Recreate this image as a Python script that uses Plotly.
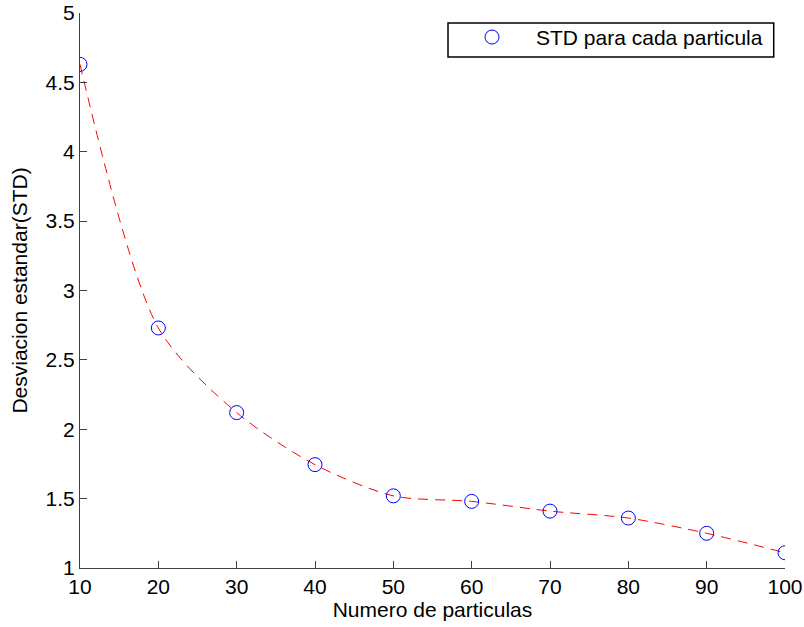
import plotly.graph_objects as go

particles = [10, 20, 30, 40, 50, 60, 70, 80, 90, 100]
std_values = [4.63, 2.73, 2.12, 1.745, 1.52, 1.48, 1.41, 1.36, 1.25, 1.11]
x_ticks = [10, 20, 30, 40, 50, 60, 70, 80, 90, 100]
y_ticks = [1, 1.5, 2, 2.5, 3, 3.5, 4, 4.5, 5]

font = "Liberation Sans, Arial, sans-serif"

fig = go.Figure()
fig.add_trace(go.Scatter(
    x=particles, y=std_values, mode="lines", line_shape="spline",
    line=dict(color="red", width=1, dash="10px,7px", smoothing=0.8), showlegend=False,
    hoverinfo="skip"))
fig.add_trace(go.Scatter(
    x=particles, y=std_values, mode="markers", name="STD para cada particula",
    marker=dict(symbol="circle-open", size=14, color="blue", line=dict(width=1, color="blue"))))

# legend frame
fig.add_shape(type="rect", xref="paper", yref="paper",
              x0=0.522, x1=0.984, y0=0.9207, y1=0.982,
              line=dict(color="black", width=1.5), fillcolor="white", layer="below")

fig.update_layout(
    width=804, height=627,
    margin=dict(l=80, r=19, t=13, b=59),
    paper_bgcolor="white", plot_bgcolor="white",
    font=dict(family=font, size=21, color="black"),
    legend=dict(x=0.522, y=0.993, xanchor="left", yanchor="top",
                borderwidth=0, bgcolor="rgba(0,0,0,0)",
                font=dict(size=21), itemwidth=78),
    xaxis=dict(range=[10, 100], tickvals=x_ticks, ticks="inside", ticklen=7,
               showline=True, linecolor="#404040", linewidth=1, showgrid=False,
               zeroline=False, tickcolor="#404040", automargin=False,
               tickfont=dict(size=21),
               title=dict(text="Numero de particulas", font=dict(size=21), standoff=0)),
    yaxis=dict(range=[1, 5], tickvals=y_ticks, ticks="inside", ticklen=7,
               showline=True, linecolor="#404040", linewidth=1, showgrid=False,
               zeroline=False, tickcolor="#404040", automargin=False,
               tickfont=dict(size=21),
               title=dict(text="Desviacion estandar(STD)", font=dict(size=21), standoff=12)),
)
fig.write_html("out.html", config={"displayModeBar": False},
               post_script="document.body.style.margin='0';")
